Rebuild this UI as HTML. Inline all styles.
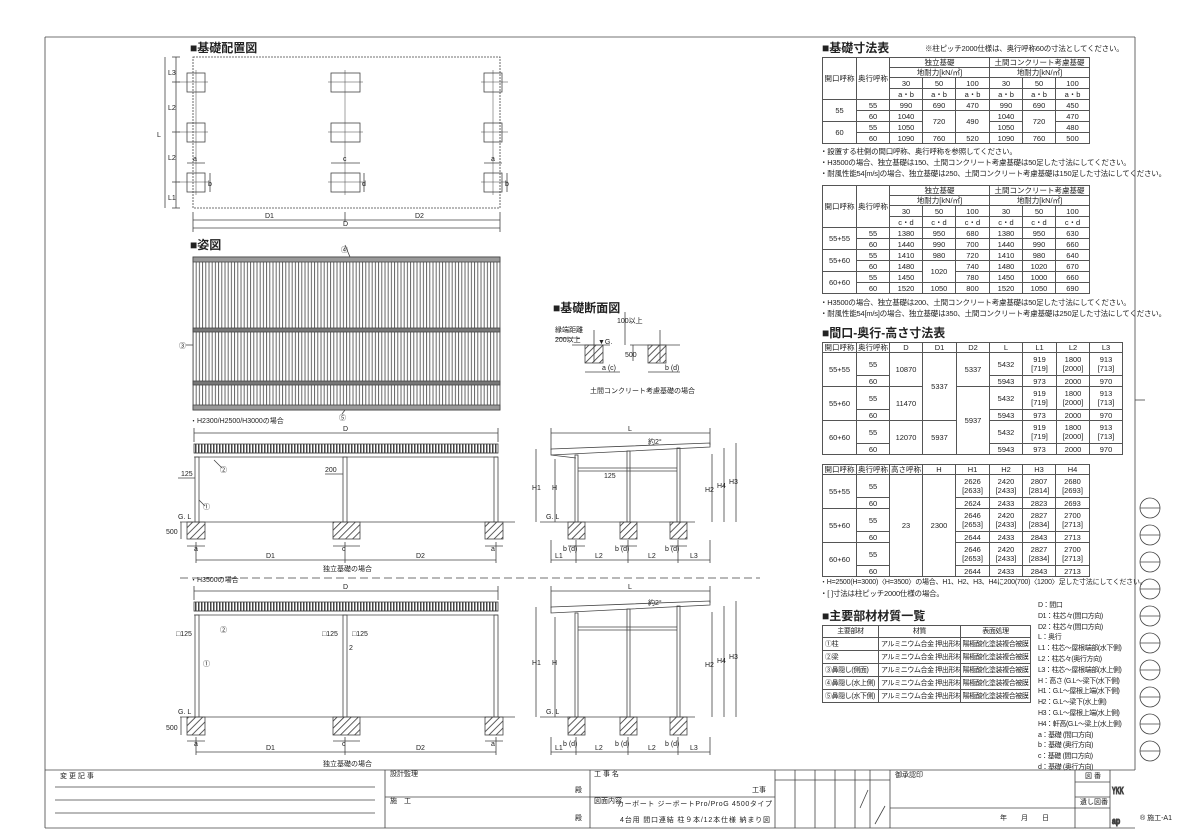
<!DOCTYPE html>
<html><head><meta charset="utf-8">
<style>
html,body{margin:0;padding:0;background:#fff;}
body{width:1181px;height:835px;position:relative;overflow:hidden;font-family:"Liberation Sans","Noto Sans CJK JP",sans-serif;color:#222;}
table{position:absolute;border-collapse:collapse;table-layout:fixed;font-size:7.5px;}
td{border:1px solid #555;padding:0;text-align:center;line-height:9px;overflow:hidden;white-space:nowrap;}
.t{position:absolute;font-size:12px;font-weight:bold;white-space:nowrap;}
.n{position:absolute;font-size:7.5px;white-space:nowrap;letter-spacing:-0.2px;}
.l{text-align:left;padding-left:2px;}
.m td{font-size:7px;letter-spacing:-0.4px;}
svg{position:absolute;left:0;top:0;}
svg text{font-family:"Liberation Sans","Noto Sans CJK JP",sans-serif;font-size:7px;fill:#222;}
</style></head><body>
<svg width="1181" height="835" viewBox="0 0 1181 835">
<defs>
<pattern id="st" width="3.2" height="10" patternUnits="userSpaceOnUse"><line x1="1" y1="0" x2="1" y2="10" stroke="#555" stroke-width="0.9"/></pattern>
<pattern id="ht" width="5" height="5" patternUnits="userSpaceOnUse" patternTransform="rotate(45)"><line x1="0" y1="0" x2="0" y2="5" stroke="#333" stroke-width="1.6"/></pattern>
<pattern id="rf" width="3" height="8" patternUnits="userSpaceOnUse"><rect x="0" y="0" width="1.5" height="8" fill="#444"/></pattern>
</defs>
<g fill="none" stroke="#444" stroke-width="0.8">
<line x1="45" y1="37" x2="1135" y2="37"/>
<line x1="45" y1="37" x2="45" y2="828"/>
<line x1="1135" y1="37" x2="1135" y2="770"/>
<line x1="1135" y1="400" x2="1145" y2="400"/>
<line x1="45" y1="770" x2="1135" y2="770"/>
<line x1="45" y1="828" x2="1135" y2="828"/>
<rect x="193" y="57" width="307" height="151" stroke-dasharray="2,1"/>
<g>
<rect x="187" y="73" width="18" height="19"/><rect x="331" y="73" width="29" height="19"/><rect x="484" y="73" width="18" height="19"/>
<rect x="187" y="123" width="18" height="19"/><rect x="331" y="123" width="29" height="19"/><rect x="484" y="123" width="18" height="19"/>
<rect x="187" y="173" width="18" height="19"/><rect x="331" y="173" width="29" height="19"/><rect x="484" y="173" width="18" height="19"/>
</g>
<g stroke-width="0.5">
<line x1="178" y1="82" x2="208" y2="82"/><line x1="328" y1="82" x2="363" y2="82"/><line x1="481" y1="82" x2="508" y2="82"/>
<line x1="178" y1="132" x2="208" y2="132"/><line x1="328" y1="132" x2="363" y2="132"/><line x1="481" y1="132" x2="508" y2="132"/>
<line x1="178" y1="182" x2="208" y2="182"/><line x1="328" y1="182" x2="363" y2="182"/><line x1="481" y1="182" x2="508" y2="182"/>
<line x1="196" y1="70" x2="196" y2="195"/><line x1="345" y1="70" x2="345" y2="195"/><line x1="493" y1="70" x2="493" y2="195"/>
</g>
<line x1="165" y1="57" x2="165" y2="208"/><line x1="176" y1="57" x2="176" y2="208"/>
<line x1="172" y1="57" x2="180" y2="57"/><line x1="172" y1="82" x2="180" y2="82"/><line x1="172" y1="132" x2="180" y2="132"/><line x1="172" y1="182" x2="180" y2="182"/><line x1="172" y1="208" x2="180" y2="208"/>
<line x1="193" y1="212" x2="193" y2="232"/><line x1="345" y1="212" x2="345" y2="222"/><line x1="500" y1="212" x2="500" y2="232"/>
<line x1="193" y1="220" x2="500" y2="220"/><line x1="193" y1="228" x2="500" y2="228"/>
<line x1="187" y1="163" x2="205" y2="163"/><line x1="331" y1="163" x2="360" y2="163"/><line x1="484" y1="163" x2="502" y2="163"/>
<line x1="210" y1="173" x2="210" y2="192"/><line x1="364" y1="173" x2="364" y2="192"/><line x1="507" y1="173" x2="507" y2="192"/>
<rect x="193" y="257" width="307" height="153" fill="url(#st)"/>
<rect x="193" y="257" width="307" height="5" fill="#999"/>
<rect x="193" y="328" width="307" height="4" fill="#777"/>
<rect x="193" y="381" width="307" height="4" fill="#777"/>
<rect x="193" y="405" width="307" height="5" fill="#999"/>
<line x1="345" y1="245" x2="350" y2="257"/><line x1="186" y1="345" x2="193" y2="345"/><line x1="345" y1="410" x2="342" y2="414"/>
<line x1="180" y1="578" x2="760" y2="578" stroke-dasharray="8,4"/>
<rect x="194" y="444" width="304" height="9" fill="url(#rf)"/>
<line x1="194" y1="453" x2="498" y2="453"/><line x1="194" y1="457" x2="498" y2="457"/>
<rect x="195" y="457" width="4" height="65"/><rect x="343" y="457" width="4" height="65"/><rect x="494" y="457" width="4" height="65"/>
<line x1="180" y1="522" x2="515" y2="522"/>
<rect x="187" y="522" width="18" height="17" fill="url(#ht)"/><rect x="333" y="522" width="27" height="17" fill="url(#ht)"/><rect x="485" y="522" width="18" height="17" fill="url(#ht)"/>
<line x1="194" y1="433" x2="498" y2="433"/><line x1="194" y1="428" x2="194" y2="442"/><line x1="498" y1="428" x2="498" y2="442"/>
<line x1="187" y1="546" x2="205" y2="546"/><line x1="333" y1="546" x2="360" y2="546"/><line x1="485" y1="546" x2="503" y2="546"/>
<line x1="196" y1="560" x2="496" y2="560"/><line x1="196" y1="542" x2="196" y2="563"/><line x1="345" y1="542" x2="345" y2="563"/><line x1="496" y1="542" x2="496" y2="563"/>
<line x1="181" y1="522" x2="181" y2="539"/><line x1="178" y1="478" x2="195" y2="478"/><line x1="325" y1="474" x2="343" y2="474"/>
<line x1="214" y1="460" x2="222" y2="468"/><line x1="199" y1="500" x2="205" y2="506"/>
<polygon points="551,449 710,443 710,447 551,455"/>
<line x1="551" y1="455" x2="576" y2="458"/>
<rect x="575" y="455" width="3" height="67"/><rect x="627" y="451" width="3" height="71"/><rect x="677" y="448" width="3" height="74"/>
<line x1="578" y1="468" x2="677" y2="468"/><line x1="578" y1="471" x2="677" y2="471"/>
<line x1="540" y1="522" x2="695" y2="522"/>
<rect x="568" y="522" width="17" height="17" fill="url(#ht)"/><rect x="620" y="522" width="17" height="17" fill="url(#ht)"/><rect x="670" y="522" width="17" height="17" fill="url(#ht)"/>
<line x1="551" y1="433" x2="710" y2="433"/><line x1="551" y1="428" x2="551" y2="450"/><line x1="710" y1="428" x2="710" y2="445"/>
<line x1="551" y1="560" x2="710" y2="560"/><line x1="551" y1="540" x2="551" y2="563"/><line x1="576" y1="540" x2="576" y2="563"/><line x1="628" y1="540" x2="628" y2="563"/><line x1="678" y1="540" x2="678" y2="563"/><line x1="710" y1="540" x2="710" y2="563"/>
<line x1="568" y1="546" x2="585" y2="546"/><line x1="620" y1="546" x2="637" y2="546"/><line x1="670" y1="546" x2="687" y2="546"/>
<line x1="536" y1="449" x2="536" y2="522"/><line x1="555" y1="459" x2="555" y2="522"/>
<line x1="712" y1="454" x2="712" y2="522"/><line x1="724" y1="448" x2="724" y2="522"/><line x1="736" y1="443" x2="736" y2="522"/>
<line x1="572" y1="345" x2="610" y2="345"/><line x1="630" y1="345" x2="680" y2="345"/>
<rect x="585" y="345" width="18" height="18" fill="url(#ht)"/><rect x="648" y="345" width="18" height="18" fill="url(#ht)"/>
<line x1="594" y1="330" x2="594" y2="362"/><line x1="660" y1="330" x2="660" y2="362"/>
<line x1="585" y1="372" x2="620" y2="372"/><line x1="648" y1="372" x2="680" y2="372"/>
<line x1="625" y1="312" x2="625" y2="345"/><line x1="633" y1="345" x2="633" y2="361"/>
<line x1="555" y1="338" x2="580" y2="338"/>
<rect x="194" y="602" width="304" height="9" fill="url(#rf)"/>
<line x1="194" y1="611" x2="498" y2="611"/><line x1="194" y1="615" x2="498" y2="615"/>
<rect x="195" y="615" width="4" height="102"/><rect x="343" y="615" width="4" height="102"/><rect x="494" y="615" width="4" height="102"/>
<line x1="180" y1="717" x2="515" y2="717"/>
<rect x="187" y="717" width="18" height="18" fill="url(#ht)"/><rect x="333" y="717" width="27" height="18" fill="url(#ht)"/><rect x="485" y="717" width="18" height="18" fill="url(#ht)"/>
<line x1="194" y1="591" x2="498" y2="591"/><line x1="194" y1="586" x2="194" y2="600"/><line x1="498" y1="586" x2="498" y2="600"/>
<line x1="187" y1="741" x2="205" y2="741"/><line x1="333" y1="741" x2="360" y2="741"/><line x1="485" y1="741" x2="503" y2="741"/>
<line x1="196" y1="752" x2="496" y2="752"/><line x1="196" y1="737" x2="196" y2="755"/><line x1="345" y1="737" x2="345" y2="755"/><line x1="496" y1="737" x2="496" y2="755"/>
<line x1="181" y1="717" x2="181" y2="735"/>
<polygon points="551,607 710,601 710,605 551,613"/>
<rect x="575" y="613" width="3" height="104"/><rect x="627" y="609" width="3" height="108"/><rect x="677" y="606" width="3" height="111"/>
<line x1="578" y1="627" x2="677" y2="627"/><line x1="578" y1="630" x2="677" y2="630"/>
<line x1="540" y1="717" x2="695" y2="717"/>
<rect x="568" y="717" width="17" height="18" fill="url(#ht)"/><rect x="620" y="717" width="17" height="18" fill="url(#ht)"/><rect x="670" y="717" width="17" height="18" fill="url(#ht)"/>
<line x1="551" y1="591" x2="710" y2="591"/><line x1="551" y1="586" x2="551" y2="608"/><line x1="710" y1="586" x2="710" y2="603"/>
<line x1="551" y1="752" x2="710" y2="752"/><line x1="551" y1="737" x2="551" y2="755"/><line x1="576" y1="737" x2="576" y2="755"/><line x1="628" y1="737" x2="628" y2="755"/><line x1="678" y1="737" x2="678" y2="755"/><line x1="710" y1="737" x2="710" y2="755"/>
<line x1="536" y1="607" x2="536" y2="717"/><line x1="555" y1="617" x2="555" y2="717"/>
<line x1="712" y1="612" x2="712" y2="717"/><line x1="724" y1="606" x2="724" y2="717"/><line x1="736" y1="601" x2="736" y2="717"/>
<g>
<circle cx="1150" cy="508" r="10"/><line x1="1140" y1="508" x2="1160" y2="508"/>
<circle cx="1150" cy="535" r="10"/><line x1="1140" y1="535" x2="1160" y2="535"/>
<circle cx="1150" cy="562" r="10"/><line x1="1140" y1="562" x2="1160" y2="562"/>
<circle cx="1150" cy="589" r="10"/><line x1="1140" y1="589" x2="1160" y2="589"/>
<circle cx="1150" cy="616" r="10"/><line x1="1140" y1="616" x2="1160" y2="616"/>
<circle cx="1150" cy="643" r="10"/><line x1="1140" y1="643" x2="1160" y2="643"/>
<circle cx="1150" cy="670" r="10"/><line x1="1140" y1="670" x2="1160" y2="670"/>
<circle cx="1150" cy="697" r="10"/><line x1="1140" y1="697" x2="1160" y2="697"/>
<circle cx="1150" cy="724" r="10"/><line x1="1140" y1="724" x2="1160" y2="724"/>
<circle cx="1150" cy="751" r="10"/><line x1="1140" y1="751" x2="1160" y2="751"/>
</g>
<line x1="385" y1="770" x2="385" y2="828"/><line x1="590" y1="770" x2="590" y2="828"/>
<line x1="385" y1="797" x2="775" y2="797"/>
<line x1="55" y1="787" x2="375" y2="787"/><line x1="55" y1="800" x2="375" y2="800"/><line x1="55" y1="813" x2="375" y2="813"/>
<line x1="775" y1="770" x2="775" y2="828"/><line x1="795" y1="770" x2="795" y2="828"/><line x1="815" y1="770" x2="815" y2="828"/><line x1="835" y1="770" x2="835" y2="828"/><line x1="855" y1="770" x2="855" y2="828"/><line x1="870" y1="770" x2="870" y2="828"/><line x1="890" y1="770" x2="890" y2="828"/>
<line x1="775" y1="780" x2="890" y2="780"/>
<line x1="860" y1="808" x2="868" y2="790"/><line x1="875" y1="824" x2="885" y2="806"/>
<line x1="890" y1="808" x2="1075" y2="808"/>
<line x1="1075" y1="770" x2="1075" y2="828"/><line x1="1110" y1="770" x2="1110" y2="828"/>
<line x1="1075" y1="782" x2="1110" y2="782"/><line x1="1075" y1="797" x2="1110" y2="797"/><line x1="1075" y1="808" x2="1110" y2="808"/>
</g>
<text x="168" y="75">L3</text>
<text x="157" y="137" font-size="8">L</text>
<text x="168" y="110">L2</text><text x="168" y="160">L2</text><text x="168" y="200">L1</text>
<text x="265" y="218">D1</text><text x="415" y="218">D2</text><text x="343" y="226">D</text>
<text x="193" y="161">a</text><text x="343" y="161">c</text><text x="491" y="161">a</text>
<text x="208" y="186">b</text><text x="362" y="186">d</text><text x="505" y="186">b</text>
<text x="341" y="252">④</text><text x="179" y="348">③</text><text x="339" y="420">⑤</text>
<text x="190" y="423">・H2300/H2500/H3000の場合</text>
<text x="343" y="431">D</text><text x="181" y="476">125</text><text x="325" y="472">200</text>
<text x="220" y="472">②</text><text x="203" y="509">①</text>
<text x="178" y="519" font-size="8">G. L</text><text x="166" y="534">500</text>
<text x="194" y="551">a</text><text x="342" y="551">c</text><text x="491" y="551">a</text>
<text x="266" y="558">D1</text><text x="416" y="558">D2</text>
<text x="323" y="571">独立基礎の場合</text>
<text x="628" y="431">L</text><text x="648" y="444">約2°</text><text x="604" y="478">125</text>
<text x="532" y="490">H1</text><text x="552" y="490">H</text><text x="705" y="492">H2</text><text x="717" y="488">H4</text><text x="729" y="484">H3</text>
<text x="546" y="519" font-size="8">G. L</text>
<text x="563" y="551">b (d)</text><text x="615" y="551">b (d)</text><text x="665" y="551">b (d)</text>
<text x="555" y="558">L1</text><text x="595" y="558">L2</text><text x="648" y="558">L2</text><text x="690" y="558">L3</text>
<text x="190" y="582">・H3500の場合</text>
<text x="343" y="589">D</text><text x="176" y="636">□125</text><text x="322" y="636">□125</text><text x="352" y="636">□125</text>
<text x="220" y="632">②</text><text x="203" y="666">①</text><text x="349" y="650">2</text>
<text x="178" y="714" font-size="8">G. L</text><text x="166" y="730">500</text>
<text x="194" y="746">a</text><text x="342" y="746">c</text><text x="491" y="746">a</text>
<text x="266" y="750">D1</text><text x="416" y="750">D2</text>
<text x="323" y="766">独立基礎の場合</text>
<text x="628" y="589">L</text><text x="648" y="605">約2°</text>
<text x="532" y="665">H1</text><text x="552" y="665">H</text><text x="705" y="667">H2</text><text x="717" y="663">H4</text><text x="729" y="659">H3</text>
<text x="546" y="714" font-size="8">G. L</text>
<text x="563" y="746">b (d)</text><text x="615" y="746">b (d)</text><text x="665" y="746">b (d)</text>
<text x="555" y="750">L1</text><text x="595" y="750">L2</text><text x="648" y="750">L2</text><text x="690" y="750">L3</text>
<text x="555" y="332">縁端距離</text><text x="555" y="342">200以上</text><text x="598" y="344">▼G.</text><text x="617" y="323" font-size="6">100以上</text><text x="625" y="357" font-size="6">500</text>
<text x="602" y="370">a (c)</text><text x="665" y="370">b (d)</text>
<text x="590" y="393">土間コンクリート考慮基礎の場合</text>
<text x="60" y="778" font-size="5">変 更 記 事</text><text x="390" y="776" font-size="5">設計監理</text><text x="390" y="803" font-size="5">施　工</text>
<text x="575" y="792" font-size="10">殿</text><text x="575" y="820" font-size="10">殿</text>
<text x="594" y="776" font-size="5">工 事 名</text><text x="752" y="792" font-size="10">工事</text>
<text x="594" y="803" font-size="5">図面内容</text>
<text x="617" y="806" font-size="9" textLength="155">カーボート ジーボートPro/ProG 4500タイプ</text>
<text x="620" y="822" font-size="9" textLength="150">4台用 間口連結 柱９本/12本仕様 納まり図</text>
<text x="895" y="777" font-size="5">御承認印</text><text x="1000" y="820" font-size="5">年　　月　　日</text>
<text x="1085" y="778" font-size="6">図 番</text><text x="1080" y="804" font-size="6">遺し図番</text>
<text transform="translate(1112,794) scale(0.8,1.4)" font-size="12" font-weight="bold" fill="none" stroke="#444" stroke-width="0.7">YKK</text>
<text transform="translate(1112,824) scale(1,1.3)" font-size="22" font-weight="bold" fill="none" stroke="#444" stroke-width="0.8">ap</text>
<text x="1140" y="820" font-size="6">® 施工-A1</text>
</svg>

<div class="t" style="left:190px;top:39px;">■基礎配置図</div>
<div class="t" style="left:190px;top:236px;">■姿図</div>
<div class="t" style="left:553px;top:299px;">■基礎断面図</div>
<div class="t" style="left:822px;top:39px;">■基礎寸法表</div>
<div class="n" style="left:925px;top:43px;">※柱ピッチ2000仕様は、奥行呼称60の寸法としてください。</div>

<table style="left:822px;top:57px;width:267px;">
<colgroup><col style="width:34px"><col style="width:33px"><col style="width:33px"><col style="width:33px"><col style="width:34px"><col style="width:33px"><col style="width:33px"><col style="width:34px"></colgroup>
<tr style="height:10px"><td rowspan="4">開口呼称</td><td rowspan="4">奥行呼称</td><td colspan="3">独立基礎</td><td colspan="3">土間コンクリート考慮基礎</td></tr>
<tr style="height:10px"><td colspan="3">地耐力[kN/㎡]</td><td colspan="3">地耐力[kN/㎡]</td></tr>
<tr style="height:11px"><td>30</td><td>50</td><td>100</td><td>30</td><td>50</td><td>100</td></tr>
<tr style="height:11px"><td>a・b</td><td>a・b</td><td>a・b</td><td>a・b</td><td>a・b</td><td>a・b</td></tr>
<tr style="height:11px"><td rowspan="2">55</td><td>55</td><td>990</td><td>690</td><td>470</td><td>990</td><td>690</td><td>450</td></tr>
<tr style="height:11px"><td>60</td><td>1040</td><td rowspan="2">720</td><td rowspan="2">490</td><td>1040</td><td rowspan="2">720</td><td>470</td></tr>
<tr style="height:11px"><td rowspan="2">60</td><td>55</td><td>1050</td><td>1050</td><td>480</td></tr>
<tr style="height:11px"><td>60</td><td>1090</td><td>760</td><td>520</td><td>1090</td><td>760</td><td>500</td></tr>
</table>
<div class="n" style="left:820px;top:146px;">・設置する柱側の間口呼称、奥行呼称を参照してください。</div>
<div class="n" style="left:820px;top:157px;">・H3500の場合、独立基礎は150、土間コンクリート考慮基礎は50足した寸法にしてください。</div>
<div class="n" style="left:820px;top:168px;">・耐風性能54[m/s]の場合、独立基礎は250、土間コンクリート考慮基礎は150足した寸法にしてください。</div>

<table style="left:822px;top:185px;width:267px;">
<colgroup><col style="width:34px"><col style="width:33px"><col style="width:33px"><col style="width:33px"><col style="width:34px"><col style="width:33px"><col style="width:33px"><col style="width:34px"></colgroup>
<tr style="height:10px"><td rowspan="4">開口呼称</td><td rowspan="4">奥行呼称</td><td colspan="3">独立基礎</td><td colspan="3">土間コンクリート考慮基礎</td></tr>
<tr style="height:10px"><td colspan="3">地耐力[kN/㎡]</td><td colspan="3">地耐力[kN/㎡]</td></tr>
<tr style="height:11px"><td>30</td><td>50</td><td>100</td><td>30</td><td>50</td><td>100</td></tr>
<tr style="height:11px"><td>c・d</td><td>c・d</td><td>c・d</td><td>c・d</td><td>c・d</td><td>c・d</td></tr>
<tr style="height:11px"><td rowspan="2">55+55</td><td>55</td><td>1380</td><td>950</td><td>680</td><td>1380</td><td>950</td><td>630</td></tr>
<tr style="height:11px"><td>60</td><td>1440</td><td>990</td><td>700</td><td>1440</td><td>990</td><td>660</td></tr>
<tr style="height:11px"><td rowspan="2">55+60</td><td>55</td><td>1410</td><td>980</td><td>720</td><td>1410</td><td>980</td><td>640</td></tr>
<tr style="height:11px"><td>60</td><td>1480</td><td rowspan="2">1020</td><td>740</td><td>1480</td><td>1020</td><td>670</td></tr>
<tr style="height:11px"><td rowspan="2">60+60</td><td>55</td><td>1450</td><td>780</td><td>1450</td><td>1000</td><td>660</td></tr>
<tr style="height:11px"><td>60</td><td>1520</td><td>1050</td><td>800</td><td>1520</td><td>1050</td><td>690</td></tr>
</table>
<div class="n" style="left:820px;top:297px;">・H3500の場合、独立基礎は200、土間コンクリート考慮基礎は50足した寸法にしてください。</div>
<div class="n" style="left:820px;top:308px;">・耐風性能54[m/s]の場合、独立基礎は350、土間コンクリート考慮基礎は250足した寸法にしてください。</div>

<div class="t" style="left:822px;top:324px;">■間口-奥行-高さ寸法表</div>
<table style="left:822px;top:342px;width:300px;">
<colgroup><col style="width:34px"><col style="width:33px"><col style="width:33px"><col style="width:34px"><col style="width:33px"><col style="width:33px"><col style="width:34px"><col style="width:33px"><col style="width:33px"></colgroup>
<tr style="height:10px"><td>開口呼称</td><td>奥行呼称</td><td>D</td><td>D1</td><td>D2</td><td>L</td><td>L1</td><td>L2</td><td>L3</td></tr>
<tr style="height:23px"><td rowspan="2">55+55</td><td>55</td><td rowspan="2">10870</td><td rowspan="4">5337</td><td rowspan="2">5337</td><td>5432</td><td>919<br>[719]</td><td>1800<br>[2000]</td><td>913<br>[713]</td></tr>
<tr style="height:11px"><td>60</td><td>5943</td><td>973</td><td>2000</td><td>970</td></tr>
<tr style="height:23px"><td rowspan="2">55+60</td><td>55</td><td rowspan="2">11470</td><td rowspan="4">5937</td><td>5432</td><td>919<br>[719]</td><td>1800<br>[2000]</td><td>913<br>[713]</td></tr>
<tr style="height:11px"><td>60</td><td>5943</td><td>973</td><td>2000</td><td>970</td></tr>
<tr style="height:23px"><td rowspan="2">60+60</td><td>55</td><td rowspan="2">12070</td><td rowspan="2">5937</td><td>5432</td><td>919<br>[719]</td><td>1800<br>[2000]</td><td>913<br>[713]</td></tr>
<tr style="height:11px"><td>60</td><td>5943</td><td>973</td><td>2000</td><td>970</td></tr>
</table>

<table style="left:822px;top:464px;width:267px;">
<colgroup><col style="width:34px"><col style="width:33px"><col style="width:33px"><col style="width:33px"><col style="width:34px"><col style="width:33px"><col style="width:33px"><col style="width:34px"></colgroup>
<tr style="height:10px"><td>開口呼称</td><td>奥行呼称</td><td>高さ呼称</td><td>H</td><td>H1</td><td>H2</td><td>H3</td><td>H4</td></tr>
<tr style="height:23px"><td rowspan="2">55+55</td><td>55</td><td rowspan="6">23</td><td rowspan="6">2300</td><td>2626<br>[2633]</td><td>2420<br>[2433]</td><td>2807<br>[2814]</td><td>2680<br>[2693]</td></tr>
<tr style="height:11px"><td>60</td><td>2624</td><td>2433</td><td>2823</td><td>2693</td></tr>
<tr style="height:23px"><td rowspan="2">55+60</td><td>55</td><td>2646<br>[2653]</td><td>2420<br>[2433]</td><td>2827<br>[2834]</td><td>2700<br>[2713]</td></tr>
<tr style="height:11px"><td>60</td><td>2644</td><td>2433</td><td>2843</td><td>2713</td></tr>
<tr style="height:23px"><td rowspan="2">60+60</td><td>55</td><td>2646<br>[2653]</td><td>2420<br>[2433]</td><td>2827<br>[2834]</td><td>2700<br>[2713]</td></tr>
<tr style="height:11px"><td>60</td><td>2644</td><td>2433</td><td>2843</td><td>2713</td></tr>
</table>
<div class="n" style="left:820px;top:577px;font-size:7px;">・H=2500(H=3000)〈H=3500〉の場合、H1、H2、H3、H4に200(700)〈1200〉足した寸法にしてください。</div>
<div class="n" style="left:820px;top:588px;">・[ ]寸法は柱ピッチ2000仕様の場合。</div>

<div class="t" style="left:822px;top:607px;">■主要部材材質一覧</div>
<table class="m" style="left:822px;top:625px;width:208px;">
<colgroup><col style="width:56px"><col style="width:82px"><col style="width:70px"></colgroup>
<tr style="height:12px"><td>主要部材</td><td>材質</td><td>表面処理</td></tr>
<tr style="height:13px"><td class="l">①柱</td><td class="l">アルミニウム合金 押出形材</td><td>陽極酸化塗装複合被膜</td></tr>
<tr style="height:13px"><td class="l">②梁</td><td class="l">アルミニウム合金 押出形材</td><td>陽極酸化塗装複合被膜</td></tr>
<tr style="height:13px"><td class="l">③鼻隠し(側面)</td><td class="l">アルミニウム合金 押出形材</td><td>陽極酸化塗装複合被膜</td></tr>
<tr style="height:13px"><td class="l">④鼻隠し(水上側)</td><td class="l">アルミニウム合金 押出形材</td><td>陽極酸化塗装複合被膜</td></tr>
<tr style="height:13px"><td class="l">⑤鼻隠し(水下側)</td><td class="l">アルミニウム合金 押出形材</td><td>陽極酸化塗装複合被膜</td></tr>
</table>
<div class="n" style="left:1038px;top:601px;line-height:10.8px;font-size:7px;letter-spacing:-0.4px;">D：間口<br>D1：柱芯々(間口方向)<br>D2：柱芯々(間口方向)<br>L：奥行<br>L1：柱芯～屋根端部(水下側)<br>L2：柱芯々(奥行方向)<br>L3：柱芯～屋根端部(水上側)<br>H：高さ (G.L～梁下(水下側)<br>H1：G.L～屋根上端(水下側)<br>H2：G.L～梁下(水上側)<br>H3：G.L～屋根上端(水上側)<br>H4：軒高(G.L～梁上(水上側)<br>a：基礎 (間口方向)<br>b：基礎 (奥行方向)<br>c：基礎 (間口方向)<br>d：基礎 (奥行方向)</div>
</body></html>
